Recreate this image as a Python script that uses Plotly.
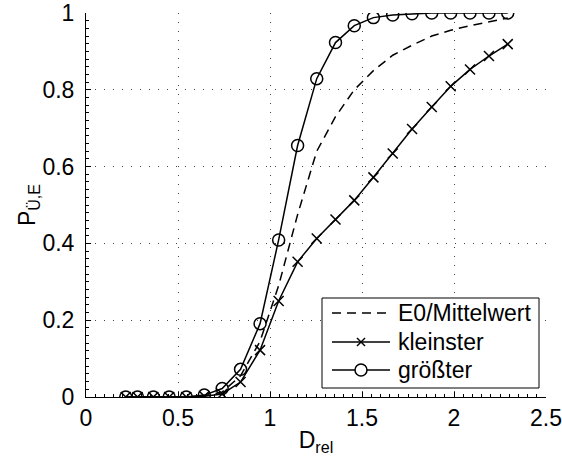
import plotly.graph_objects as go

d_rel = [0.216, 0.28, 0.366, 0.452, 0.545, 0.643, 0.74, 0.84, 0.946, 1.047, 1.15, 1.254, 1.356, 1.458, 1.562, 1.667, 1.772, 1.879, 1.982, 2.087, 2.19, 2.292]
p_mittel = [0, 0, 0, 0, 0, 0.003, 0.013, 0.055, 0.145, 0.29, 0.475, 0.64, 0.73, 0.80, 0.85, 0.89, 0.916, 0.94, 0.955, 0.967, 0.978, 0.987]
p_klein = [0, 0, 0, 0, 0, 0.002, 0.008, 0.039, 0.122, 0.25, 0.352, 0.413, 0.462, 0.512, 0.572, 0.634, 0.698, 0.755, 0.809, 0.853, 0.888, 0.919]
p_gross = [0, 0, 0, 0, 0, 0.005, 0.022, 0.072, 0.191, 0.409, 0.655, 0.829, 0.923, 0.967, 0.988, 0.995, 0.998, 1, 1, 1, 1, 1]

names = ["E0/Mittelwert", "kleinster", "größter"]
x_ticks = [0, 0.5, 1, 1.5, 2, 2.5]
x_ticklabels = ["0", "0.5", "1", "1.5", "2", "2.5"]
y_ticks = [0, 0.2, 0.4, 0.6, 0.8, 1]
y_ticklabels = ["0", "0.2", "0.4", "0.6", "0.8", "1"]

FONT = "Liberation Sans, Arial, sans-serif"
FS = 23
W, H = 562, 466
ML, MR, MT, MB = 86, 16, 13, 69
PW, PH = W - ML - MR, H - MT - MB


def px(x):
    return (x - ML) / PW


def py(y):
    return (H - MB - y) / PH


fig = go.Figure()
fig.add_trace(go.Scatter(x=d_rel, y=p_mittel, mode="lines", name=names[0],
                         line=dict(color="black", width=1.5, dash="9px,6px")))
fig.add_trace(go.Scatter(x=d_rel, y=p_klein, mode="lines+markers", name=names[1],
                         line=dict(color="black", width=1.5),
                         marker=dict(symbol="x-thin-open", size=10, color="black",
                                     line=dict(color="black", width=1.5))))
fig.add_trace(go.Scatter(x=d_rel, y=p_gross, mode="lines+markers", name=names[2],
                         line=dict(color="black", width=1.5),
                         marker=dict(symbol="circle-open", size=12, color="black",
                                     line=dict(color="black", width=1.5))))

axis_common = dict(
    showgrid=True, gridcolor="#444", gridwidth=1, griddash="1px,8px",
    showline=True, linecolor="black", linewidth=1,
    ticks="inside", ticklen=5, tickcolor="black",
    zeroline=False, automargin=False,
    tickfont=dict(size=FS, color="black", family=FONT),
)

fig.update_xaxes(range=[0, 2.5], tickvals=x_ticks, ticktext=x_ticklabels,
                 title=dict(text="D<sub>rel</sub>", font=dict(size=FS, color="black", family=FONT), standoff=2),
                 minor=dict(ticks="inside", ticklen=3, dtick=0.05, tickcolor="black", showgrid=False),
                 **axis_common)
fig.update_yaxes(range=[0, 1], tickvals=y_ticks, ticktext=y_ticklabels, ticklabelstandoff=6,
                 title=dict(text="P<sub>Ü,E</sub>", font=dict(size=FS, color="black", family=FONT), standoff=0),
                 minor=dict(ticks="inside", ticklen=3, dtick=0.02, tickcolor="black", showgrid=False),
                 **axis_common)

# manual legend (box, samples, labels)
shapes = []
annotations = []
shapes.append(dict(type="rect", xref="paper", yref="paper",
                   x0=px(322), x1=px(539), y0=py(388), y1=py(298),
                   line=dict(color="black", width=1), fillcolor="white", layer="above"))
leg_y = [313, 342, 370]
leg_x0, leg_x1, leg_xc, leg_tx = 332, 390, 361, 396
dashes = ["9px,6px", "solid", "solid"]
for i, yy in enumerate(leg_y):
    shapes.append(dict(type="line", xref="paper", yref="paper",
                       x0=px(leg_x0), x1=px(leg_x1), y0=py(yy), y1=py(yy),
                       line=dict(color="black", width=1.5, dash=dashes[i]), layer="above"))
    annotations.append(dict(text=names[i], xref="paper", yref="paper",
                            x=px(leg_tx), y=py(yy), xanchor="left", yanchor="middle",
                            showarrow=False, font=dict(size=FS, family=FONT, color="black")))
# x marker in legend
s = 4
for dx0, dy0, dx1, dy1 in [(-s, -s, s, s), (-s, s, s, -s)]:
    shapes.append(dict(type="line", xref="paper", yref="paper",
                       x0=px(leg_xc + dx0), x1=px(leg_xc + dx1),
                       y0=py(leg_y[1] + dy0), y1=py(leg_y[1] + dy1),
                       line=dict(color="black", width=1.5), layer="above"))
# circle marker in legend
r = 6
shapes.append(dict(type="circle", xref="paper", yref="paper",
                   x0=px(leg_xc - r), x1=px(leg_xc + r), y0=py(leg_y[2] + r), y1=py(leg_y[2] - r),
                   line=dict(color="black", width=1.5), fillcolor="white", layer="above"))

fig.update_layout(
    width=W, height=H,
    margin=dict(l=ML, r=MR, t=MT, b=MB, autoexpand=False),
    plot_bgcolor="white", paper_bgcolor="white",
    font=dict(family=FONT, size=FS, color="black"),
    showlegend=False,
    shapes=shapes, annotations=annotations,
)

fig.write_html("out.html", config={"displayModeBar": False},
               post_script="document.body.style.margin='0';")
